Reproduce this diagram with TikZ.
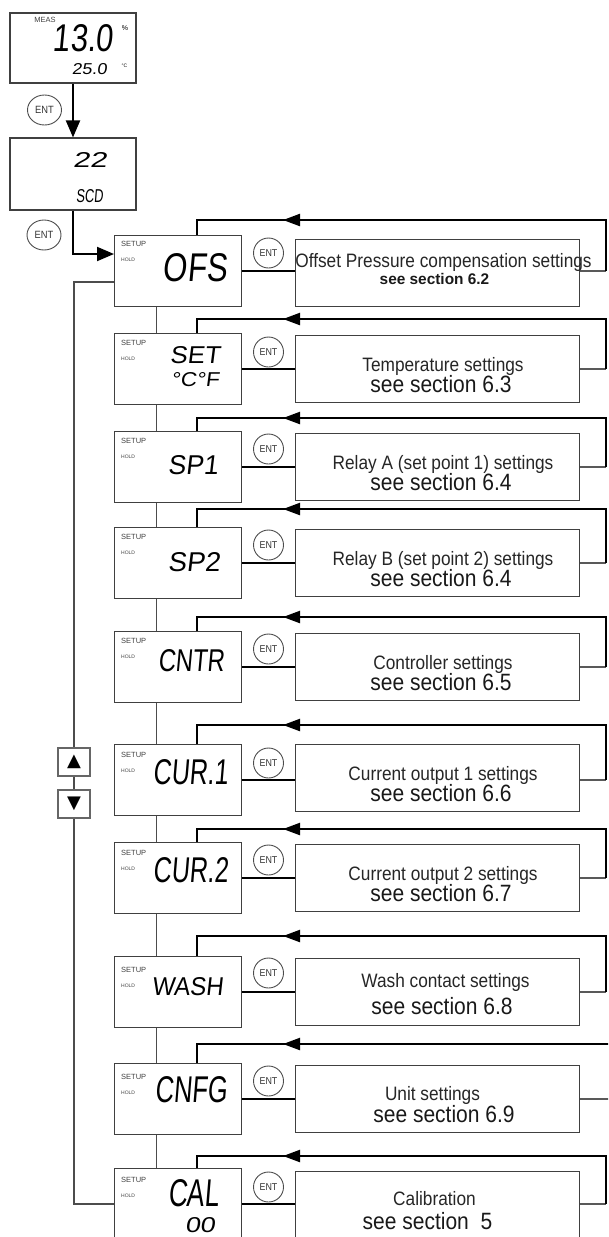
\documentclass[tikz,border=0pt]{standalone}
\usepackage{fontspec}
\setmainfont{Liberation Sans}
\newfontfamily\lcdfont[FakeSlant=0.12]{Liberation Sans}
\newfontfamily\narrowfont[FakeStretch=0.89]{Liberation Sans}
\newfontfamily\symfont{DejaVu Sans}
\usetikzlibrary{arrows.meta,shapes.geometric,calc}
\newcommand{\lcd}[3]{\resizebox{#1pt}{#2pt}{\lcdfont #3}}
\begin{document}
\begin{tikzpicture}[x=1pt,y=-1pt,
  dispbox/.style={draw=black!75, line width=1.1pt, minimum width=126pt, inner sep=0pt},
  setupbox/.style={draw=black!75, line width=1.1pt, minimum width=127pt, minimum height=71pt, anchor=north west, inner sep=0pt},
  infobox/.style={draw=black!75, line width=1.1pt, minimum width=284pt, minimum height=67pt, anchor=north west, inner sep=0pt},
  entbtn/.style={draw=black!70, line width=0.9pt, circle, minimum size=30pt, inner sep=0pt, font=\narrowfont\fontsize{10}{11}\selectfont, text=black!80},
  entbig/.style={draw=black!70, line width=0.9pt, ellipse, minimum width=34pt, minimum height=30pt, inner sep=0pt, font=\narrowfont\fontsize{10.5}{11}\selectfont, text=black!80},
  lcdtxt/.style={inner sep=0pt},
  setuplbl/.style={anchor=west, inner sep=0pt, text=black!75, font=\fontsize{7.5}{8}\selectfont},
  holdlbl/.style={anchor=west, inner sep=0pt, text=black!75, font=\fontsize{5}{6}\selectfont},
  lineone/.style={anchor=base, inner sep=0pt, text=black!85, font=\narrowfont\fontsize{19.4}{21}\selectfont},
  linetwo/.style={anchor=base, inner sep=0pt, text=black!90, font=\narrowfont\fontsize{23.6}{25}\selectfont},
  conn/.style={draw=black, line width=1.6pt},
  stub/.style={draw=black!65, line width=1.3pt},
  loopline/.style={draw=black, line width=2.2pt},
  loophead/.style={draw=black, line width=2.2pt, -{Triangle[length=17pt,width=12pt]}},
  bigarrow/.style={draw=black, line width=2pt, -{Triangle[length=17pt,width=14pt]}},
  chain/.style={draw=black!70, line width=1pt},
  keybox/.style={draw=black!60, line width=1.5pt, minimum width=32pt, minimum height=28pt, inner sep=0pt, font=\symfont\fontsize{18}{18}\selectfont},
]
\useasboundingbox (0,0) rectangle (608,1237);
\clip (0,0) rectangle (608,1237);

% top displays
\node[dispbox, minimum height=70pt] (meas) at (73,48) {};
\node[inner sep=0pt, text=black!75, font=\fontsize{7.5}{8}\selectfont] (measlbl) at (45,19.5) {MEAS};
\node[lcdtxt] (v1) at (83,38.5) {\lcd{60}{27}{13.0}};
\node[inner sep=0pt, font=\fontsize{7}{8}\selectfont] (pct) at (125,28.5) {\%};
\node[lcdtxt] (v2) at (89.5,69.5) {\lcd{35}{11}{25.0}};
\node[inner sep=0pt, font=\fontsize{5}{6}\selectfont] (degc) at (124.5,66) {°C};

\node[dispbox, minimum height=72pt] (scd) at (73,174) {};
\node[lcdtxt] (v3) at (90,159.5) {\lcd{34}{15}{22}};
\node[lcdtxt] (v4) at (89.5,196.5) {\lcd{27}{13}{SCD}};

\node[entbig] (ent1) at (44.5,110) {ENT};
\node[entbig] (ent2) at (44,235) {ENT};

% setup rows
\foreach \i/\T/\S/\L/\E/\U in {1/235/239/220/253/8.5, 2/333/335/319/352/10, 3/431/433/418/449/10, 4/527/529/509/545/10, 5/631/633/617/649/10, 6/744/744/725/763/11, 7/842/844/829/860/11, 8/956/958/936/973/14, 9/1063/1065/1044/1081/14, 10/1168/1171/1156/1187/12}{
  \node[setupbox] (s\i) at (114,\T) {};
  \node[infobox] (b\i) at (295,\S) {};
  \node[entbtn] (e\i) at (268.5,\E) {ENT};
  \node[setuplbl] (su\i) at (121,{\T+\U}) {SETUP};
  \node[holdlbl] (ho\i) at (121,{\T+\U+16}) {HOLD};
  \draw[conn] (s\i.east) -- (s\i.east -| b\i.west);
  \coordinate (k\i) at (197,\L);
  \coordinate (r\i) at (606,\L);
  \coordinate (a\i) at (283,\L);
  \coordinate (h\i) at (300,\L);
}
\foreach \i [count=\j from 2] in {1,...,9}{
  \draw[chain] ($(s\i.south west)+(42,0)$) -- ($(s\j.north west)+(42,0)$);
}
\foreach \i in {1,2,3,4,5,6,7,8,10}{
  \draw[stub] (s\i.east -| b\i.east) -- (s\i.east -| r\i);
  \draw[loopline] (s\i.east -| r\i) -- (r\i) -- (k\i) -- (k\i |- s\i.north);
  \draw[loophead] (h\i) -- (a\i);
}
% CNFG row: lines run off the right edge
\coordinate (r9e) at (612,1044);
\draw[stub] (s9.east -| b9.east) -- (s9.east -| r9e);
\draw[loopline] (r9e) -- (k9) -- (k9 |- s9.north);
\draw[loophead] (h9) -- (a9);

% entry arrows
\draw[bigarrow] (meas.south) -- (scd.north);
\draw[bigarrow] (scd.south) |- (s1.west |- 0,254);

% left loop with key boxes
\node[keybox] (up) at (74,762) {▲};
\node[keybox] (dn) at (74,804) {▼};
\draw[chain, line width=1.2pt] (s1.west |- 0,282) -| (up.north);
\draw[chain, line width=1.2pt] (up.south) -- (dn.north);
\draw[chain, line width=1.2pt] (dn.south) |- (s10.west |- 0,1204);

% LCD texts
\node[lcdtxt] (l1) at (195,268) {\lcd{64}{28}{OFS}};
\node[lcdtxt] (l2) at (195,355) {\lcd{50}{17}{SET}};
\node[lcdtxt] (l2b) at (195,380) {\lcd{48}{14}{°C°F}};
\node[lcdtxt] (l3) at (193,465) {\lcd{50}{19}{SP1}};
\node[lcdtxt] (l4) at (194,562) {\lcd{52}{19}{SP2}};
\node[lcdtxt] (l5) at (191,661) {\lcd{66}{22}{CNTR}};
\node[lcdtxt] (l6) at (190.5,772.5) {\lcd{75}{25}{CUR.1}};
\node[lcdtxt] (l7) at (190.5,870.5) {\lcd{75}{25}{CUR.2}};
\node[lcdtxt] (l8) at (187.5,987) {\lcd{71}{18}{WASH}};
\node[lcdtxt] (l9) at (191,1090) {\lcd{72}{26}{CNFG}};
\node[lcdtxt] (l10) at (193.5,1193.5) {\lcd{51}{27}{CAL}};
\node[lcdtxt] (l10b) at (200,1225.5) {\lcd{30}{15}{00}};

% settings texts
\node[lineone] (t1a) at (443.5,267) {Offset Pressure compensation settings};
\node[linetwo, font=\bfseries\fontsize{15.4}{17}\selectfont] (t1b) at (434.5,284) {see section 6.2};
\node[lineone] (t2a) at (443,371) {Temperature settings};
\node[linetwo] (t2b) at (441,392) {see section 6.3};
\node[lineone] (t3a) at (443,469) {Relay A (set point 1) settings};
\node[linetwo] (t3b) at (441,490) {see section 6.4};
\node[lineone] (t4a) at (443,565) {Relay B (set point 2) settings};
\node[linetwo] (t4b) at (441,586) {see section 6.4};
\node[lineone] (t5a) at (443,669) {Controller settings};
\node[linetwo] (t5b) at (441,690) {see section 6.5};
\node[lineone] (t6a) at (443,780) {Current output 1 settings};
\node[linetwo] (t6b) at (441,801) {see section 6.6};
\node[lineone] (t7a) at (443,880) {Current output 2 settings};
\node[linetwo] (t7b) at (441,901) {see section 6.7};
\node[lineone] (t8a) at (445.5,987) {Wash contact settings};
\node[linetwo] (t8b) at (442,1014) {see section 6.8};
\node[lineone] (t9a) at (432.5,1100) {Unit settings};
\node[linetwo] (t9b) at (444,1122) {see section 6.9};
\node[lineone] (t10a) at (434.5,1205.5) {Calibration};
\node[linetwo] (t10b) at (427.5,1229) {see section~~5};
\end{tikzpicture}
\end{document}
